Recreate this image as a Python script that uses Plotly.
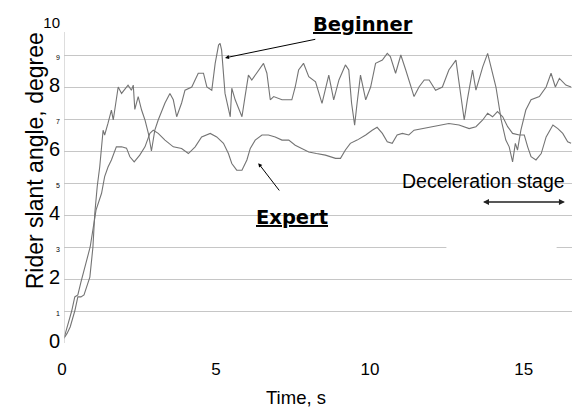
import plotly.graph_objects as go

# Beginner rider
beg_t = [0.0, 0.1, 0.2, 0.35, 0.45, 0.55, 0.65, 0.75, 0.84, 0.94, 1.0, 1.08, 1.16, 1.27, 1.32, 1.43, 1.54, 1.6,
         1.76, 1.87, 2.08, 2.19, 2.25, 2.3, 2.41, 2.52, 2.63, 2.74, 2.84, 2.95, 3.06, 3.28, 3.44, 3.55, 3.66, 3.82,
         3.93, 4.15, 4.36, 4.53, 4.64, 4.8, 4.91, 5.02, 5.07, 5.12, 5.23, 5.4, 5.45, 5.56, 5.78, 5.88, 5.99, 6.1,
         6.32, 6.48, 6.59, 6.7, 6.81, 7.08, 7.4, 7.51, 7.62, 7.78, 7.95, 8.17, 8.38, 8.6, 8.76, 8.93, 9.14, 9.25,
         9.34, 9.44, 9.52, 9.63, 9.8, 9.96, 10.12, 10.34, 10.5, 10.6, 10.77, 10.94, 11.1, 11.37, 11.53, 11.7,
         11.86, 12.07, 12.29, 12.5, 12.73, 12.83, 13.0, 13.1, 13.27, 13.38, 13.6, 13.76, 13.87, 14.03, 14.2,
         14.35, 14.46, 14.57, 14.66, 14.73, 14.84, 15.0, 15.17, 15.44, 15.66, 15.82, 15.96, 16.09, 16.3, 16.47]
beg_y = [0.15, 0.3, 0.5, 1.0, 1.44, 1.44, 1.5, 1.8, 2.06, 3.0, 4.05, 4.9, 5.5, 6.65, 6.5, 6.87, 7.28, 6.97,
         8.0, 7.8, 8.06, 7.9, 8.06, 7.3, 7.7, 7.28, 6.97, 6.55, 6.0, 6.65, 6.97, 7.5, 7.8, 7.6, 7.07, 7.5,
         7.9, 8.0, 8.43, 8.43, 8.0, 7.9, 8.74, 9.31, 9.36, 9.15, 7.8, 7.07, 7.96, 7.6, 7.07, 7.7, 8.37, 8.22,
         8.53, 8.74, 8.43, 7.6, 7.7, 7.6, 7.6, 8.0, 8.53, 8.74, 8.32, 8.16, 7.49, 8.37, 7.6, 8.22, 8.69, 8.53,
         7.5, 6.81, 7.5, 8.37, 7.6, 8.0, 8.74, 8.84, 9.05, 8.95, 8.43, 9.0, 8.53, 7.7, 8.0, 8.22,
         8.22, 7.9, 8.0, 8.53, 8.84, 8.11, 6.97, 7.6, 8.53, 7.9, 8.63, 9.05, 8.63, 8.0, 6.97,
         6.34, 6.13, 5.66, 6.24, 6.03, 6.65, 7.28, 7.6, 7.7, 8.0, 8.43, 8.0, 8.27, 8.06, 8.0]

# Expert rider
exp_t = [0.0, 0.1, 0.25, 0.35, 0.45, 0.55, 0.72, 0.85, 1.04, 1.22, 1.32, 1.43, 1.54, 1.7, 1.87, 2.03, 2.14,
         2.28, 2.46, 2.63, 2.79, 2.9, 3.06, 3.28, 3.55, 3.82, 4.04, 4.26, 4.47, 4.75, 4.96, 5.18, 5.34, 5.45,
         5.61, 5.78, 5.94, 6.05, 6.21, 6.43, 6.64, 6.86, 7.08, 7.3, 7.51, 7.73, 7.95, 8.2, 8.49, 8.82, 8.98,
         9.14, 9.3, 9.52, 9.8, 10.01, 10.17, 10.34, 10.5, 10.66, 10.82, 10.99, 11.2, 11.37, 11.64, 11.86,
         12.18, 12.5, 12.83, 13.16, 13.38, 13.6, 13.76, 13.92, 14.08, 14.25, 14.41, 14.57, 14.79, 14.95,
         15.06, 15.17, 15.33, 15.5, 15.66, 15.88, 16.04, 16.2, 16.36, 16.47]
exp_y = [0.15, 0.5, 1.0, 1.44, 1.5, 1.9, 2.5, 3.0, 4.15, 4.68, 5.2, 5.5, 5.72, 6.13, 6.13, 6.09, 5.82,
         5.66, 5.87, 6.13, 6.55, 6.65, 6.55, 6.34, 6.13, 6.08, 5.92, 6.13, 6.44, 6.55, 6.44, 6.24, 5.92, 5.61,
         5.4, 5.4, 5.72, 6.08, 6.34, 6.5, 6.5, 6.44, 6.34, 6.34, 6.18, 6.08, 5.97, 5.92, 5.87, 5.77, 5.77,
         6.03, 6.24, 6.34, 6.5, 6.65, 6.74, 6.55, 6.29, 6.24, 6.5, 6.55, 6.5, 6.65, 6.7, 6.76,
         6.81, 6.86, 6.81, 6.7, 6.76, 6.97, 7.18, 7.07, 7.23, 7.07, 6.76, 6.55, 6.5, 6.5,
         6.13, 5.82, 5.72, 5.92, 6.44, 6.81, 6.7, 6.55, 6.29, 6.24]

x_ticks = [0, 5, 10, 15]
y_ticks = list(range(0, 11))
y_tick_sizes = {0: 20, 2: 20, 4: 20, 6: 20, 8: 20, 10: 15}
y_ticktext = ['<span style="font-size:%dpx">%d</span>' % (y_tick_sizes.get(v, 7), v) for v in y_ticks]

FONT = "Liberation Sans"
BOLD = "DejaVu Sans"
LINE = "#747474"
GRID = "#c6c6c6"

fig = go.Figure()
fig.add_trace(go.Scatter(x=beg_t, y=beg_y, mode="lines", name="Beginner",
                         line=dict(color=LINE, width=1.1)))
fig.add_trace(go.Scatter(x=exp_t, y=exp_y, mode="lines", name="Expert",
                         line=dict(color=LINE, width=1.1)))

fig.update_layout(
    width=574, height=408,
    margin=dict(l=64, r=2, t=23, b=65),
    paper_bgcolor="white", plot_bgcolor="white",
    showlegend=False,
    font=dict(family=FONT, color="#000000"),
    xaxis=dict(range=[0, 16.5], tickvals=x_ticks, showgrid=False, zeroline=False,
               showline=False, ticks="", tickfont=dict(size=17, family=FONT),
               ticklabelshift=-2, ticklabelstandoff=14),
    yaxis=dict(range=[0, 10], tickvals=y_ticks, ticktext=y_ticktext, showgrid=True,
               gridcolor=GRID, gridwidth=1, zeroline=False, showline=False, ticks="",
               tickfont=dict(size=15, family=FONT), ticklabelstandoff=3),
)

# vertical axis line, starting just below the top gridline
fig.add_shape(type="line", xref="x", yref="y", x0=0, x1=0, y0=0, y1=9.72,
              line=dict(color=GRID, width=1.2), layer="above")
# small gaps in gridlines seen in the original
fig.add_shape(type="rect", xref="x", yref="y", x0=-0.05, x1=0.23, y0=9.95, y1=10.05,
              fillcolor="white", line=dict(width=0), layer="above")
fig.add_shape(type="rect", xref="x", yref="y", x0=12.42, x1=16.0, y0=2.96, y1=3.04,
              fillcolor="white", line=dict(width=0), layer="above")

# axis titles
fig.add_annotation(text="Rider slant angle, degree", xref="paper", yref="y", x=0, y=5.68,
                   xshift=-29, textangle=-90, showarrow=False, font=dict(size=23, family=FONT),
                   xanchor="center", yanchor="middle")
fig.add_annotation(text="Time, s", xref="x", yref="paper", x=7.53, y=0, yshift=-54,
                   showarrow=False, font=dict(size=18.5, family=FONT), xanchor="center", yanchor="middle")

# labels with arrows
fig.add_annotation(text="<b><u>Beginner</u></b>", xref="x", yref="y", x=9.71, y=9.94,
                   showarrow=False, font=dict(size=19.5, family=BOLD))
fig.add_annotation(x=5.23, y=8.91, ax=8.21, ay=9.5, xref="x", yref="y", axref="x", ayref="y",
                   text="", showarrow=True, arrowhead=2, arrowsize=0.8, arrowwidth=1, arrowcolor="#000")
fig.add_annotation(text="<b><u>Expert</u></b>", xref="x", yref="y", x=7.42, y=3.93,
                   showarrow=False, font=dict(size=19.5, family=BOLD))
fig.add_annotation(x=6.31, y=5.62, ax=7.03, ay=4.72, xref="x", yref="y", axref="x", ayref="y",
                   text="", showarrow=True, arrowhead=2, arrowsize=0.8, arrowwidth=1, arrowcolor="#000")
fig.add_annotation(text="Deceleration stage", xref="x", yref="y", x=13.62, y=5.06,
                   showarrow=False, font=dict(size=19.5, family=FONT))
fig.add_annotation(x=16.27, y=4.41, ax=13.56, ay=4.41, xref="x", yref="y", axref="x", ayref="y",
                   text="", showarrow=True, arrowhead=2, startarrowhead=2, arrowside="end+start",
                   arrowsize=0.8, startarrowsize=0.8, arrowwidth=1.5, arrowcolor="#222")

fig.write_html("out.html", config={"displayModeBar": False},
               post_script="document.body.style.margin='0';")
